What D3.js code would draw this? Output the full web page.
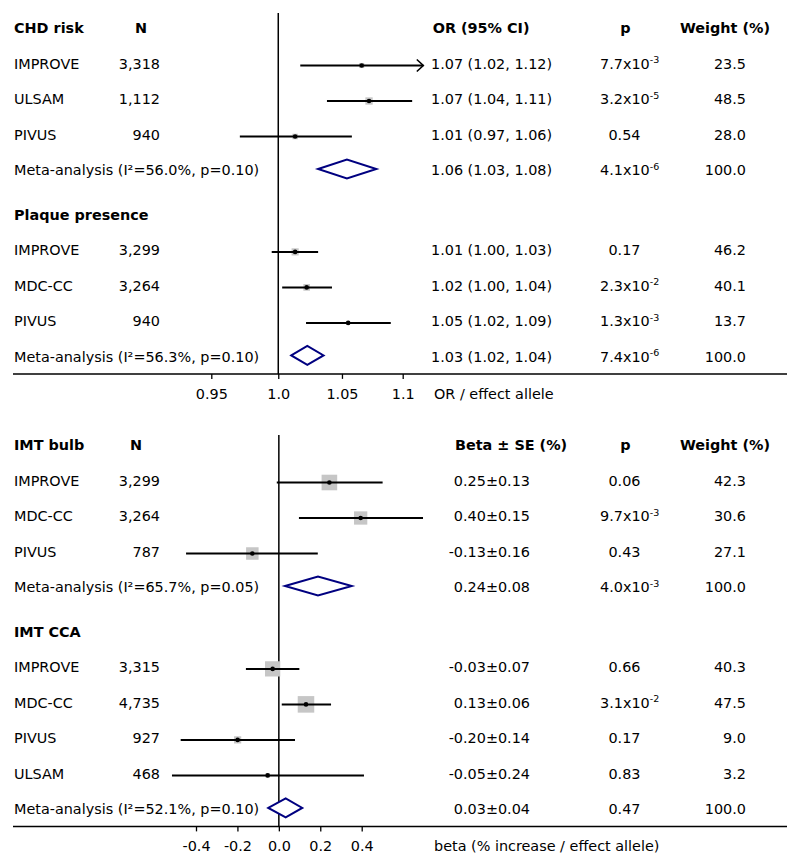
<!DOCTYPE html>
<html><head><meta charset="utf-8">
<script src="https://cdn.jsdelivr.net/npm/d3@7"></script>
<style>
body{margin:0;background:#fff}
svg{display:block}
text{font-family:"DejaVu Sans",Verdana,sans-serif;font-size:14.4px;fill:#000}
.b{font-weight:bold}
</style>
</head><body><div id="chart"></div>
<script>
// ================= DATA =================
// ---- Top panel: odds ratios ----
const topHeaders = ["N", "OR (95% CI)", "p", "Weight (%)"];
const topTickVals = [0.95, 1.0, 1.05, 1.1];
const topTickLabels = ["0.95", "1.0", "1.05", "1.1"];
const topAxisTitle = "OR / effect allele";

const chdTitle = "CHD risk";
const chdStudies = ["IMPROVE", "ULSAM", "PIVUS"];
const chdN = ["3,318", "1,112", "940"];
const chdEst = [1.066, 1.072, 1.013];
const chdLo = [1.017, 1.038, 0.971];
const chdHi = [1.12, 1.108, 1.058];
const chdStat = ["1.07 (1.02, 1.12)", "1.07 (1.04, 1.11)", "1.01 (0.97, 1.06)"];
const chdP = ["7.7x10^-3", "3.2x10^-5", "0.54"];
const chdW = [23.5, 48.5, 28.0];
const chdMetaLabel = "Meta-analysis (I\u00B2=56.0%, p=0.10)";
const chdMetaEst = [1.054, 1.031, 1.078]; // centre, lower, upper
const chdMetaStat = "1.06 (1.03, 1.08)";
const chdMetaP = "4.1x10^-6";
const chdMetaW = "100.0";

const plqTitle = "Plaque presence";
const plqStudies = ["IMPROVE", "MDC-CC", "PIVUS"];
const plqN = ["3,299", "3,264", "940"];
const plqEst = [1.013, 1.022, 1.055];
const plqLo = [0.995, 1.003, 1.0215];
const plqHi = [1.031, 1.042, 1.090];
const plqStat = ["1.01 (1.00, 1.03)", "1.02 (1.00, 1.04)", "1.05 (1.02, 1.09)"];
const plqP = ["0.17", "2.3x10^-2", "1.3x10^-3"];
const plqW = [46.2, 40.1, 13.7];
const plqMetaLabel = "Meta-analysis (I\u00B2=56.3%, p=0.10)";
const plqMetaEst = [1.0225, 1.010, 1.0353];
const plqMetaStat = "1.03 (1.02, 1.04)";
const plqMetaP = "7.4x10^-6";
const plqMetaW = "100.0";

// ---- Bottom panel: beta ----
const botHeaders = ["N", "Beta \u00B1 SE (%)", "p", "Weight (%)"];
const botTickVals = [-0.4, -0.2, 0, 0.2, 0.4];
const botTickLabels = ["-0.4", "-0.2", "0.0", "0.2", "0.4"];
const botAxisTitle = "beta (% increase / effect allele)";

const bulbTitle = "IMT bulb";
const bulbStudies = ["IMPROVE", "MDC-CC", "PIVUS"];
const bulbN = ["3,299", "3,264", "787"];
const bulbEst = [0.244, 0.395, -0.128];
const bulbLo = [-0.010, 0.097, -0.448];
const bulbHi = [0.501, 0.696, 0.188];
const bulbStat = ["0.25\u00B10.13", "0.40\u00B10.15", "-0.13\u00B10.16"];
const bulbP = ["0.06", "9.7x10^-3", "0.43"];
const bulbW = [42.3, 30.6, 27.1];
const bulbMetaLabel = "Meta-analysis (I\u00B2=65.7%, p=0.05)";
const bulbMetaEst = [0.189, 0.030, 0.352];
const bulbMetaStat = "0.24\u00B10.08";
const bulbMetaP = "4.0x10^-3";
const bulbMetaW = "100.0";

const ccaTitle = "IMT CCA";
const ccaStudies = ["IMPROVE", "MDC-CC", "PIVUS", "ULSAM"];
const ccaN = ["3,315", "4,735", "927", "468"];
const ccaEst = [-0.030, 0.131, -0.199, -0.054];
const ccaLo = [-0.159, 0.014, -0.474, -0.516];
const ccaHi = [0.099, 0.252, 0.078, 0.411];
const ccaStat = ["-0.03\u00B10.07", "0.13\u00B10.06", "-0.20\u00B10.14", "-0.05\u00B10.24"];
const ccaP = ["0.66", "3.1x10^-2", "0.17", "0.83"];
const ccaW = [40.3, 47.5, 9.0, 3.2];
const ccaMetaLabel = "Meta-analysis (I\u00B2=52.1%, p=0.10)";
const ccaMetaEst = [0.033, -0.051, 0.113];
const ccaMetaStat = "0.03\u00B10.04";
const ccaMetaP = "0.47";
const ccaMetaW = "100.0";

// ================= BUILD =================
function group(title, studies, n, est, lo, hi, stat, p, w, mLabel, mEst, mStat, mP, mW) {
  return {
    title,
    rows: studies.map((s, i) => ({label: s, n: n[i], est: est[i], lo: lo[i], hi: hi[i], stat: stat[i], p: p[i], w: w[i]})),
    meta: {label: mLabel, est: mEst[0], lo: mEst[1], hi: mEst[2], stat: mStat, p: mP, w: mW}
  };
}

const W = 800, H = 867;
const svg = d3.select("#chart").append("svg").attr("width", W).attr("height", H);

const STEP = 35.5;
const COL = {label: 14, nRight: 160, pMid: 624.5, pStart: 600, wRight: 746, wHead: 680, pHead: 625.5, titleX: 434};
const PLOT_RIGHT = 423.3;

function writeP(sel, x, y, s) {
  const parts = s.split("^");
  const t = sel.append("text").attr("y", y).attr("dy", "0.36em");
  if (parts.length > 1) {
    t.attr("x", COL.pStart).attr("text-anchor", "start");
    t.append("tspan").text(parts[0]);
    t.append("tspan").attr("dy", -5.5).style("font-size", "9.5px").text(parts[1]);
  } else {
    t.attr("x", COL.pMid).attr("text-anchor", "middle").text(s);
  }
}

function drawPanel(cfg) {
  const g = svg.append("g");
  const x = cfg.x;
  const box = d3.scaleSqrt().domain([0, 100]).range([0, cfg.boxMax]);
  let idx = 0;
  const rowY = i => cfg.y0 + i * STEP;
  let lastY = 0;

  // column headers
  const hy = rowY(0);
  g.append("text").attr("class", "b").attr("x", cfg.nHeadX).attr("y", hy).attr("dy", "0.36em").text(cfg.headers[0]);
  g.append("text").attr("class", "b").attr("x", cfg.statHeadX).attr("y", hy).attr("dy", "0.36em").text(cfg.headers[1]);
  g.append("text").attr("class", "b").attr("x", COL.pHead).attr("y", hy).attr("dy", "0.36em").attr("text-anchor", "middle").text(cfg.headers[2]);
  g.append("text").attr("class", "b").attr("x", COL.wHead).attr("y", hy).attr("dy", "0.36em").text(cfg.headers[3]);

  const marks = g.append("g");
  const texts = g.append("g");

  cfg.groups.forEach((grp, gi) => {
    if (gi > 0) idx += 0.25;
    const ty = rowY(idx);
    texts.append("text").attr("class", "b").attr("x", COL.label).attr("y", ty).attr("dy", "0.36em").text(grp.title);
    idx++;
    grp.rows.forEach(r => {
      const y = rowY(idx);
      const ly = y + 2;
      texts.append("text").attr("x", COL.label).attr("y", y).attr("dy", "0.36em").text(r.label);
      texts.append("text").attr("x", COL.nRight).attr("y", y).attr("dy", "0.36em").attr("text-anchor", "end").text(r.n);
      texts.append("text").attr("x", cfg.statX).attr("y", y).attr("dy", "0.36em").attr("text-anchor", cfg.statAnchor).text(r.stat);
      writeP(texts, 0, y, r.p);
      texts.append("text").attr("x", COL.wRight).attr("y", y).attr("dy", "0.36em").attr("text-anchor", "end").text(r.w.toFixed(1));
      // marks
      const s = box(r.w);
      const cx = x(r.est);
      marks.append("rect").attr("x", cx - s / 2).attr("y", ly - s / 2).attr("width", s).attr("height", s).attr("fill", "#c6c6c6");
      const x1 = x(r.lo), x2raw = x(r.hi);
      const clipped = x2raw > PLOT_RIGHT;
      const x2 = clipped ? PLOT_RIGHT : x2raw;
      marks.append("line").attr("x1", x1).attr("x2", x2).attr("y1", ly).attr("y2", ly).attr("stroke", "#000").attr("stroke-width", 2);
      if (clipped) {
        marks.append("path").attr("d", `M${x2 - 6.5},${ly - 6}L${x2},${ly}L${x2 - 6.5},${ly + 6}`)
          .attr("fill", "none").attr("stroke", "#000").attr("stroke-width", 1.6);
      }
      marks.append("circle").attr("cx", cx).attr("cy", ly).attr("r", 2.3).attr("fill", "#000");
      idx++;
    });
    const m = grp.meta;
    const y = rowY(idx);
    const dy = y - 1;
    texts.append("text").attr("x", COL.label).attr("y", y).attr("dy", "0.36em").text(m.label);
    texts.append("text").attr("x", cfg.statX).attr("y", y).attr("dy", "0.36em").attr("text-anchor", cfg.statAnchor).text(m.stat);
    writeP(texts, 0, y, m.p);
    texts.append("text").attr("x", COL.wRight).attr("y", y).attr("dy", "0.36em").attr("text-anchor", "end").text(m.w);
    const xl = x(m.lo), xc = x(m.est), xr = x(m.hi);
    marks.append("path").attr("d", `M${xl},${dy}L${xc},${dy - 9.5}L${xr},${dy}L${xc},${dy + 9.5}Z`)
      .attr("fill", "#fff").attr("stroke", "#000080").attr("stroke-width", 2);
    lastY = y;
    idx++;
  });

  const axisY = lastY + 17.5;
  // reference line
  g.insert("line", ":first-child").attr("x1", x(cfg.ref)).attr("x2", x(cfg.ref)).attr("y1", cfg.refTop).attr("y2", axisY)
    .attr("stroke", "#000").attr("stroke-width", 1.5);
  // axis baseline
  g.append("line").attr("x1", 13).attr("x2", 787).attr("y1", axisY).attr("y2", axisY).attr("stroke", "#000").attr("stroke-width", 1.5);
  const ax = d3.axisBottom(x).tickValues(cfg.tickVals).tickFormat((d, i) => cfg.tickLabels[i]).tickSize(5).tickPadding(6);
  const axG = g.append("g").attr("transform", `translate(0,${axisY})`).call(ax);
  axG.select(".domain").remove();
  axG.selectAll(".tick line").attr("stroke", "#000").attr("stroke-width", 1.3);
  axG.selectAll(".tick text").attr("font-family", null).attr("font-size", null).attr("fill", "#000")
    .attr("y", null).attr("dy", "0.36em").attr("transform", "translate(0,19.5)");
  g.append("text").attr("x", COL.titleX).attr("y", axisY + 19.5).attr("dy", "0.36em").text(cfg.axisTitle);
}

drawPanel({
  x: d3.scaleLog().domain([0.95, 1.1]).range([211.3, 402.7]),
  ref: 1.0, refTop: 13, y0: 28, boxMax: 10.5,
  headers: topHeaders, nHeadX: 135, statHeadX: 432.7, statX: 431, statAnchor: "start",
  tickVals: topTickVals, tickLabels: topTickLabels, axisTitle: topAxisTitle,
  groups: [
    group(chdTitle, chdStudies, chdN, chdEst, chdLo, chdHi, chdStat, chdP, chdW, chdMetaLabel, chdMetaEst, chdMetaStat, chdMetaP, chdMetaW),
    group(plqTitle, plqStudies, plqN, plqEst, plqLo, plqHi, plqStat, plqP, plqW, plqMetaLabel, plqMetaEst, plqMetaStat, plqMetaP, plqMetaW)
  ]
});

drawPanel({
  x: d3.scaleLinear().domain([-0.4, 0.4]).range([196, 361.7]),
  ref: 0, refTop: 435, y0: 445, boxMax: 24,
  headers: botHeaders, nHeadX: 130, statHeadX: 455, statX: 530, statAnchor: "end",
  tickVals: botTickVals, tickLabels: botTickLabels, axisTitle: botAxisTitle,
  groups: [
    group(bulbTitle, bulbStudies, bulbN, bulbEst, bulbLo, bulbHi, bulbStat, bulbP, bulbW, bulbMetaLabel, bulbMetaEst, bulbMetaStat, bulbMetaP, bulbMetaW),
    group(ccaTitle, ccaStudies, ccaN, ccaEst, ccaLo, ccaHi, ccaStat, ccaP, ccaW, ccaMetaLabel, ccaMetaEst, ccaMetaStat, ccaMetaP, ccaMetaW)
  ]
});
</script>
</body></html>
